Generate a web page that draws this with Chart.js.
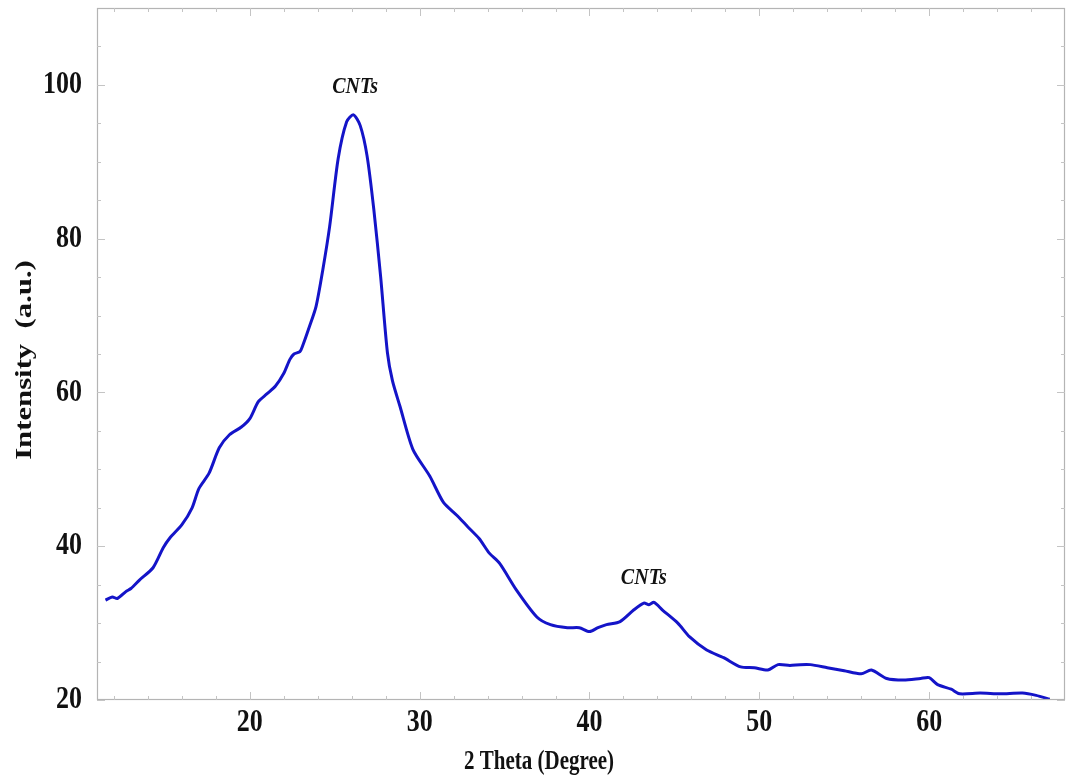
<!DOCTYPE html>
<html>
<head>
<meta charset="utf-8">
<script src="https://cdn.jsdelivr.net/npm/chart.js@4/dist/chart.umd.min.js"></script>
<style>
  html, body { margin: 0; padding: 0; background: #ffffff; }
  #wrap { width: 1067px; height: 784px; position: relative; }
</style>
</head>
<body>
<div id="wrap"><canvas id="c" width="1067" height="784"></canvas></div>
<script>
// ---- data ----
const twoTheta = [
  11.5, 11.9, 12.2, 12.7, 13.0, 13.5, 14.3, 14.9, 15.3, 16.0, 16.6, 17.0, 17.6, 18.2, 18.8, 19.5,
  20.0, 20.5, 21.0, 21.5, 22.0, 22.36, 22.6, 22.95, 23.1, 23.5, 23.9, 24.3, 24.7, 25.2, 25.7, 26.1,
  26.5, 26.9, 27.3, 27.7, 28.1, 28.4, 28.84, 29.6, 30.6, 31.4, 32.2, 32.8, 33.5, 34.1, 34.7, 35.7,
  36.9, 37.7, 38.7, 39.4, 40.0, 40.5, 41.0, 41.8, 42.6, 43.2, 43.5, 43.8, 44.3, 45.2, 45.9, 46.9,
  47.9, 48.9, 49.7, 50.5, 51.1, 51.8, 52.4, 53.0, 54.0, 55.0, 56.0, 56.6, 57.5, 58.5, 59.5, 60.0,
  60.5, 61.3, 61.8, 63.0, 64.2, 65.5, 66.3, 67.1
];
const intensity = [
  33.0, 33.4, 33.2, 34.1, 34.5, 35.6, 37.2, 39.8, 41.1, 42.8, 45.0, 47.5, 49.5, 52.8, 54.5, 55.5,
  56.6, 58.8, 59.8, 60.8, 62.5, 64.3, 65.0, 65.3, 66.0, 68.5, 71.2, 76.0, 81.6, 90.4, 95.2, 96.1,
  94.7, 90.8, 83.8, 75.1, 65.2, 61.5, 58.2, 52.6, 49.1, 45.7, 44.0, 42.6, 41.0, 39.1, 37.8, 34.3,
  30.8, 29.8, 29.4, 29.4, 28.9, 29.4, 29.8, 30.2, 31.7, 32.6, 32.4, 32.7, 31.7, 30.0, 28.2, 26.5,
  25.5, 24.3, 24.2, 23.9, 24.6, 24.5, 24.6, 24.6, 24.2, 23.8, 23.4, 23.9, 22.8, 22.6, 22.8, 22.9,
  22.0, 21.4, 20.8, 20.9, 20.8, 20.9, 20.6, 20.1
];
const xTickValues = [20, 30, 40, 50, 60];
const yTickValues = [20, 40, 60, 80, 100];
const xMinorValues = [12, 14, 16, 18, 22, 24, 26, 28, 32, 34, 36, 38, 42, 44, 46, 48, 52, 54, 56, 58, 62, 64, 66, 68];
const yMinorValues = [25, 30, 35, 45, 50, 55, 65, 70, 75, 85, 90, 95, 105, 110];
const peakLabels = ["CNTs", "CNTs"];
const peakX = [26.2, 43.2];
const peakY = [99.8, 35.9];
const xTitle = "2 Theta (Degree)";
const yTitle = "Intensity  (a.u.)";

const points = twoTheta.map((x, i) => ({ x: x, y: intensity[i] }));

const serif = "'Liberation Serif', 'Times New Roman', serif";
const ink = '#111111';

function stretchedText(ctx, text, x, y, font, sy, align, rotate) {
  ctx.save();
  ctx.translate(x, y);
  if (rotate) ctx.rotate(rotate);
  ctx.scale(rotate ? sy : 1, rotate ? 1 : sy);
  ctx.font = font;
  ctx.fillStyle = ink;
  ctx.textAlign = align;
  ctx.textBaseline = 'middle';
  ctx.fillText(text, 0, 0);
  ctx.restore();
}

const framePlugin = {
  id: 'frame',
  afterDatasetsDraw(chart) {
    const { ctx, chartArea: a, scales } = chart;
    const xs = scales.x, ys = scales.y;
    ctx.save();
    ctx.strokeStyle = '#b4b4b4';
    ctx.lineWidth = 1.2;
    ctx.strokeRect(a.left + 0.5, a.top + 0.5, a.right - a.left - 1, a.bottom - a.top - 1);
    ctx.strokeStyle = '#c4c4c4';
    ctx.lineWidth = 1;
    const tick = (px, major, horizontal) => {
      const len = major ? 8 : 4;
      ctx.beginPath();
      if (horizontal) {
        ctx.moveTo(px, a.bottom); ctx.lineTo(px, a.bottom - len);
        ctx.moveTo(px, a.top); ctx.lineTo(px, a.top + len);
      } else {
        ctx.moveTo(a.left, px); ctx.lineTo(a.left + len, px);
        ctx.moveTo(a.right, px); ctx.lineTo(a.right - len, px);
      }
      ctx.stroke();
    };
    xTickValues.forEach(v => tick(Math.round(xs.getPixelForValue(v)) + 0.5, true, true));
    xMinorValues.forEach(v => { if (v < xs.max) tick(Math.round(xs.getPixelForValue(v)) + 0.5, false, true); });
    yTickValues.forEach(v => tick(Math.round(ys.getPixelForValue(v)) + 0.5, true, false));
    yMinorValues.forEach(v => { if (v < ys.max) tick(Math.round(ys.getPixelForValue(v)) + 0.5, false, false); });
    ctx.restore();

    // tick labels
    const tickFont = "bold 26px " + serif;
    xTickValues.forEach(v => stretchedText(ctx, String(v), xs.getPixelForValue(v), a.bottom + 23, tickFont, 1.2, 'center'));
    yTickValues.forEach(v => stretchedText(ctx, String(v), a.left - 15, ys.getPixelForValue(v), tickFont, 1.2, 'right'));
    // axis titles
    stretchedText(ctx, xTitle, 539, 762, "bold 21px " + serif, 1.25, 'center');
    stretchedText(ctx, yTitle, 25, 360, "bold 24px " + serif, 1.28, 'center', -Math.PI / 2);
    // peak annotations
    peakLabels.forEach((t, i) => {
      stretchedText(ctx, t, xs.getPixelForValue(peakX[i]), ys.getPixelForValue(peakY[i]),
        "italic bold 20px " + serif, 1.2, 'center');
    });
  }
};

new Chart(document.getElementById('c'), {
  type: 'line',
  data: {
    datasets: [{
      data: points,
      borderColor: '#1414c8',
      borderWidth: 3,
      pointRadius: 0,
      tension: 0.25,
      fill: false
    }]
  },
  options: {
    responsive: false,
    animation: false,
    events: [],
    layout: { padding: { left: 0, top: 8, right: 2, bottom: 0 } },
    plugins: { legend: { display: false }, tooltip: { enabled: false } },
    scales: {
      x: {
        type: 'linear',
        min: 11,
        max: 68,
        afterBuildTicks: s => { s.ticks = xTickValues.map(v => ({ value: v })); },
        afterFit: s => { s.height = 84; s.paddingLeft = 0; s.paddingRight = 0; },
        grid: { display: false, drawTicks: false },
        border: { display: false },
        ticks: { display: false },
        title: { display: false }
      },
      y: {
        type: 'linear',
        min: 20,
        max: 110,
        afterBuildTicks: s => { s.ticks = yTickValues.map(v => ({ value: v })); },
        afterFit: s => { s.width = 97; s.paddingTop = 0; s.paddingBottom = 0; },
        grid: { display: false, drawTicks: false },
        border: { display: false },
        ticks: { display: false },
        title: { display: false }
      }
    }
  },
  plugins: [framePlugin]
});
</script>
</body>
</html>
